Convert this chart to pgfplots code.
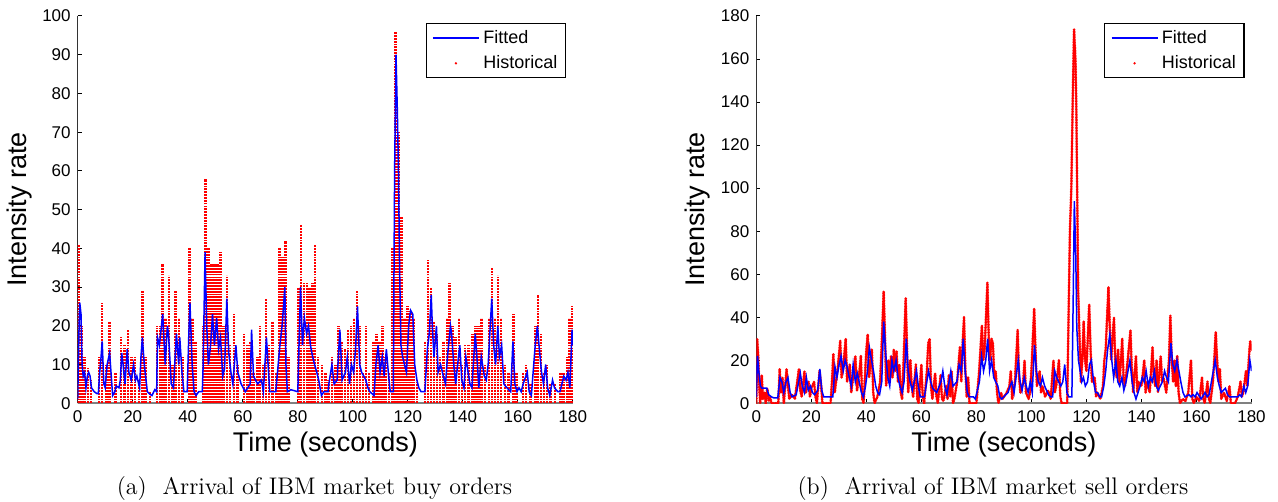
\documentclass[border=0pt]{standalone}
\usepackage{fontspec}
\usepackage{pgfplots}
\pgfplotsset{compat=1.18}
\newfontfamily\arial{Liberation Sans}

\pgfplotsset{
  ibm/.style={
    scale only axis,
    width=247.6pt, height=193.65pt,
    anchor=south west,
    xmin=0, xmax=180,
    ymin=0,
    xtick={0,20,...,180},
    axis x line*=bottom, axis y line*=left,
    x axis line style={draw=gray, line width=0.8pt},
    y axis line style={draw=black!80, line width=0.5pt},
    tick align=inside,
    major tick length=2pt,
    tick style={black, line width=0.5pt},
    /pgf/number format/assume math mode=true,
    tick label style={font=\arial\fontsize{8.5}{10}\selectfont},
    label style={font=\arial\fontsize{13.5}{15}\selectfont},
    xlabel={Time (seconds)},
    ylabel={Intensity rate},
    xlabel style={at={(axis description cs:0.5,0)}, anchor=base, yshift=-24.2pt},
    ylabel style={at={(axis description cs:-0.1042,0.5)}, anchor=base, rotate=0},
    clip=true,
    reverse legend,
    legend cell align=left,
    legend style={at={(1,1)}, anchor=north east, xshift=-3.5pt, yshift=-3.5pt,
      draw=black, line width=0.6pt, font=\arial\fontsize{9}{10}\selectfont,
      inner xsep=3pt, inner ysep=2.2pt, row sep=2.6pt, column sep=0.8pt,
      nodes={inner sep=1pt}},
  },
  fitted/.style={blue, line width=0.75pt, mark=none, sharp plot,
    legend image code/.code={\draw[blue, line width=0.75pt, solid] (0pt,0pt) -- (23pt,0pt);}},
  histlegend/.style={legend image code/.code={%
    \path[draw=none, fill=none] (0pt,0pt) -- (23pt,0pt);%
    \fill[red, draw=none] (11.5pt,0pt) circle[radius=0.65pt];}},
}

\begin{document}
\begin{tikzpicture}
\useasboundingbox (0,0) rectangle (639pt,251pt);

% ---------------- (a) buy orders ----------------
\begin{axis}[ibm, at={(38.85pt,49.35pt)}, ymax=100, ytick={0,10,...,100}]
\addplot[red, ycomb, mark=none, line width=1.3pt, line cap=butt, dash pattern=on 0.9pt off 0.52pt, histlegend]
coordinates {
(0.3,41) (1.4,20) (2.5,12) (3.7,9) (4.8,6) (7.8,12) (8.8,26) (10.5,10) (11.6,21) (13.8,8) (15.8,17) (17,15)
(18.3,19) (19.6,12) (20.8,12) (22.3,6) (23.5,29) (24.6,12) (26.3,3) (28.8,20) (29.9,20) (30.9,36) (32,22) (33.2,33)
(34.4,10) (35.6,29) (36.8,22) (38,12) (40.6,40) (41.7,22) (42.8,16) (45.5,20) (46.5,58) (47.6,40) (48.7,36) (49.8,36)
(50.9,36) (51.9,39) (53,20) (54.3,33) (55.4,15) (56.8,23) (58,10) (60.5,18) (61.7,15) (62.8,16) (64,8) (65.3,12)
(66.3,20) (67.3,10) (68.5,27) (69.6,15) (70.7,21) (72.3,8) (73.3,40) (74.4,38) (75.5,42) (76.6,12) (80.2,30) (81.2,46)
(82.3,31) (83.3,31) (84.3,30) (85.3,31) (86.3,41) (87.4,12) (88.8,10) (90,8) (91.2,6) (92.4,12) (93.6,10) (94.8,20)
(95.9,16) (97.1,14) (98.2,19) (99.3,20) (100.4,22) (101.5,29) (102.6,20) (103.7,8) (104.8,20) (105.9,8) (107.5,16)
(108.6,18) (109.7,16) (110.8,20) (111.9,12) (113.2,8) (114.5,40) (115.5,96) (116.6,70) (117.7,48) (118.8,22) (119.9,25)
(121,24) (122.1,22) (123.3,6) (126.3,16) (127.3,37) (128.4,30) (129.5,21) (130.6,18) (131.7,12) (133,16) (134.2,22)
(135.2,31) (136.3,20) (137.4,17) (138.6,22) (139.7,10) (140.8,15) (142,15) (143.5,18) (144.6,20) (145.7,20) (146.8,22)
(148,10) (149.5,22) (150.6,35) (151.7,22) (152.8,33) (153.9,22) (155.3,10) (156.5,8) (158.3,23) (159.5,8) (161.8,8)
(163,10) (164.5,5) (166.3,20) (167.3,28) (168.4,18) (169.5,8) (170.6,10) (171.8,5) (173.5,5) (175.5,8) (176.6,8)
(177.8,12) (178.8,22) (179.8,25)
};
\addlegendentry{Historical}
\addplot[fitted] coordinates {
(0,1) (0.5,20) (0.75,26) (1.2,23) (1.6,10) (2.0,7) (2.5,8) (3,4) (3.5,7) (4,8) (4.5,7) (5,4) (6,3) (7,2.5) (7.5,2.5)
(8.0,8) (8.5,12) (8.9,16) (9.5,5) (10,4) (10.7,10) (11.6,13) (12.4,5) (12.7,2) (13.5,3) (14,4.5) (15,4) (15.5,6)
(16.0,13) (16.5,10) (17.2,5) (18,14) (18.6,8) (19.5,6) (20.3,10) (21,6) (21.5,7) (22.5,4) (23.0,12) (23.5,17)
(24.2,10) (25,5) (25.3,3) (26,2.5) (27,2) (28,3.5) (28.7,3) (29,17) (29.7,15) (30.9,23) (31.8,10) (32.6,20) (33,18)
(34,5) (34.8,4) (35.9,18) (36.7,10) (37.1,17) (37.9,8) (38.6,3) (39.8,3) (40.4,18) (40.8,26) (41.6,10) (42.3,3)
(43,2) (44,3) (45.3,3) (45.6,10) (46.3,39) (46.9,20) (47.5,10) (48.3,15) (49,23) (49.7,15) (50.5,22) (51.2,14)
(51.9,17) (52.7,7) (53.4,9) (54.2,27) (54.9,13) (55.7,8) (56.4,5) (57.5,15) (58.2,8) (59.4,5) (60.9,3) (62.7,5)
(63.2,19) (63.9,7) (65.4,5) (66.8,6) (67.5,3) (68.6,17) (69.2,10) (69.8,3) (72,3) (73.5,15) (74.3,20) (75.3,30)
(75.7,10) (76.2,3) (77.5,3.5) (80,3) (81,30) (81.7,15) (82.4,22) (83.2,18) (83.9,20) (84.6,15) (85.4,12) (86.1,10)
(86.9,8) (87.6,6) (88.6,2) (89.5,3) (91,3) (91.3,5) (92.4,10) (93.2,5) (94.3,6) (95.3,19) (96.1,6) (97.3,8) (98,12)
(98.8,5) (99.5,10) (100.3,8) (101,14) (101.7,25) (102.5,10) (103.2,8) (104,7) (104.7,6) (105.5,4) (106.2,3)
(107.7,2) (108.4,10) (109.2,15) (109.9,8) (110.7,12) (111.4,7) (112.2,14) (112.9,8) (113.6,3) (114.7,3) (115.2,60)
(115.7,90) (116.2,75) (116.6,60) (117,35) (117.5,15) (118.1,12) (118.8,10) (119.5,8) (120.3,20) (121,24) (121.8,23)
(122.5,10) (123.3,6) (124,4) (124.8,3) (126.2,3) (127.1,14) (127.8,18) (128.5,28) (128.9,20) (129.5,12) (130.4,20)
(131,8) (131.9,10) (132.9,7) (133.7,5) (134.4,12) (135.5,20) (135.9,18) (136.7,10) (137.4,5) (138.1,10) (138.9,15)
(139.6,6) (140.4,4) (141.1,12) (141.9,8) (142.6,5) (143.3,4) (144.5,18) (145.3,10) (145.8,4) (146.7,12) (147.8,7)
(148.5,6) (149.2,10) (150.5,27) (151.2,15) (151.9,10) (152.7,20) (153.3,12) (154.1,15) (154.9,5) (156,4) (157.4,3)
(158.2,16) (158.9,5) (159.7,3) (160.4,4) (161.2,3) (161.9,5) (163.4,8) (164.1,3) (164.9,2) (166.3,15) (167.1,20)
(167.8,14) (168.6,8) (169.3,5) (170.1,10) (170.8,4) (171.6,2) (172.6,6) (173.3,4) (174.5,3) (175.3,3) (176.7,7)
(177.5,6) (178.2,8) (178.9,4) (179.7,19) (180,15)
};
\addlegendentry{Fitted}
\end{axis}

% ---------------- (b) sell orders ----------------
\begin{axis}[ibm, at={(378.15pt,49.35pt)}, ymax=180, ytick={0,20,...,180}]
\addplot[red, sharp plot, mark=none, line width=1.4pt, line cap=round, line join=round, dash pattern=on 0pt off 0.8pt, histlegend]
coordinates {
(0,0) (0.3,30) (0.7,22) (1,10) (1.4,0) (2,13) (2.4,2) (3,5) (3.4,0) (4,7) (4.5,1) (5,3) (5.5,0) (8,0) (8.5,16) (9,5)
(9.5,12) (10,0) (11,16) (11.5,8) (12,2) (13,4) (14,2) (15.5,16) (16,6) (16.5,3) (17.5,15) (18,5) (19,10) (19.5,3)
(20,7) (21,10) (21.5,3) (22,0) (23,15) (23.6,8) (24,0) (27,0) (27.5,10) (28,23) (28.5,5) (29.5,15) (30.5,29) (31,12)
(31.8,20) (32.5,30) (33,10) (34,18) (34.5,5) (35,10) (36,22) (36.6,6) (37.5,15) (38,22) (38.5,2) (39,0) (40,25)
(40.5,32) (41,12) (42,25) (42.5,5) (43,0) (44,3) (45,10) (45.5,25) (46.3,52) (46.8,30) (47.2,8) (48,20) (48.5,10)
(49,22) (49.5,12) (50,25) (50.5,15) (51,24) (51.5,10) (52,18) (52.5,5) (53,2) (53.5,18) (54.3,49) (54.8,25) (55.2,5)
(56,20) (56.5,8) (57,3) (58,18) (58.5,2) (59,0) (60,18) (60.5,3) (61,0) (62,15) (62.5,28) (63,30) (63.5,8) (64,2)
(65,14) (65.5,3) (66,0) (67,13) (67.5,2) (68,1) (69,8) (69.5,2) (70,13) (70.5,3) (71,15) (71.5,0) (72,2) (73,10)
(74,26) (74.5,10) (75,28) (75.5,40) (76,15) (76.5,3) (77,12) (77.5,0) (80,0) (81,15) (82,36) (82.5,20) (83,25)
(84,56) (84.5,30) (85,20) (85.5,30) (86,28) (86.5,12) (87,15) (87.5,5) (88,0) (89,5) (89.5,2) (90,3) (91,5) (92,8)
(92.5,15) (93,2) (94,10) (95,34) (95.5,12) (96,5) (97,10) (97.5,20) (98,5) (99,2) (99.5,5) (100,15) (101,44)
(101.6,20) (102,8) (103,15) (103.5,5) (104,8) (105,3) (106,6) (107,2) (108,20) (108.5,5) (109,8) (110,20) (110.5,3)
(111,0) (113,0) (114,80) (114.5,100) (115,140) (115.5,174) (116,160) (116.3,140) (116.7,90) (117,52) (117.5,30)
(118,10) (118.5,20) (119,38) (119.5,20) (120,15) (121,46) (121.5,25) (122,10) (123,12) (123.5,3) (124,5) (125,2)
(126,8) (126.5,20) (127,25) (127.5,40) (128,54) (128.5,35) (129,20) (129.5,30) (130,40) (130.5,18) (131,12)
(131.5,25) (132,10) (133,30) (133.5,12) (134,8) (135,20) (136,34) (136.5,15) (137,5) (138,22) (138.5,5) (139,10)
(140,8) (141,20) (141.5,5) (142,10) (143,5) (144,26) (144.5,12) (145,8) (145.5,20) (146,5) (147,22) (147.5,10)
(148,12) (149,5) (150,20) (150.5,41) (151,20) (151.5,10) (152,20) (152.5,8) (153,22) (153.5,5) (154,0) (155,2)
(156,1) (157,5) (158,20) (158.5,2) (159,0) (160,3) (161,1) (162,12) (162.5,2) (163,0) (164,10) (164.5,2) (165,0)
(166,10) (167,33) (167.5,20) (168,10) (168.5,16) (169,2) (170,5) (171,1) (172,8) (172.5,0) (174,0) (175,3) (176,10)
(176.5,3) (177,5) (178,15) (178.5,8) (179,20) (179.5,29) (180,25)
};
\addlegendentry{Historical}
\addplot[fitted] coordinates {
(0,3) (0.44,22) (0.9,15) (1.5,8) (2,7) (3,7) (3.8,7) (4.5,4) (5.5,3) (6.4,2.5) (7.8,2.5) (8.6,12) (9.3,10) (10,5)
(10.8,10) (11.5,12) (12.3,5) (13,3) (14.5,4) (16,14) (16.7,8) (17.5,5) (18.2,12) (18.9,6) (19.7,8) (20.4,5) (21.2,4)
(22.3,6) (23.1,16) (23.8,6) (24.5,3) (26,3) (27.8,3) (28.6,17) (29.3,12) (30.1,18) (30.8,22) (31.6,15) (32.3,20)
(33,17) (33.8,12) (34.5,8) (35.2,18) (36,10) (36.7,14) (37.4,10) (38.2,5) (38.9,3) (39.7,8) (40.4,15) (41.1,26)
(41.9,20) (42.6,15) (43.4,8) (44.1,5) (44.8,4) (45.6,10) (46.3,38) (47.1,22) (47.8,12) (48.5,8) (49.3,20) (50,15)
(50.8,20) (51.5,12) (52.2,8) (53,5) (53.7,10) (54.5,30) (55.2,15) (55.9,10) (56.7,6) (57.4,10) (58.2,15) (58.9,8)
(59.6,3) (61.1,3) (62.6,15) (63.4,10) (64.1,7) (64.8,6) (65.6,5) (67.1,10) (67.8,15) (68.5,8) (69.3,4) (70.7,15)
(71.5,8) (72.9,10) (73.7,18) (74.5,15) (75.2,30) (75.9,15) (76.7,5) (77.4,3) (78.9,3) (79.6,2) (81.1,10) (81.9,22)
(82.6,15) (83.4,20) (84.1,30) (84.8,15) (85.5,20) (86.3,12) (87,10) (87.8,8) (88.5,3) (89.2,2) (90.7,4) (91.5,5)
(92.2,8) (92.9,10) (93.7,5) (94.4,12) (95.2,20) (95.9,10) (96.6,6) (97.4,12) (98.1,8) (98.8,5) (99.6,10) (100.3,5)
(101.1,27) (101.8,15) (102.5,10) (103.3,8) (104,12) (104.8,8) (105.5,6) (106.2,4) (107,3) (107.7,3) (108.5,15)
(109.2,12) (109.9,10) (110.7,8) (111.4,10) (112.1,18) (112.9,5) (113.6,3) (114.7,3) (115.2,50) (115.6,94) (116.1,70)
(116.5,35) (117.1,20) (117.7,15) (118.3,10) (118.9,12) (119.6,8) (120.4,10) (121.1,18) (121.8,20) (122.6,10)
(123.3,5) (124,5) (124.8,3) (125.5,3) (126.3,8) (127,15) (127.7,25) (128.5,32) (129.2,20) (129.9,12) (130.7,20)
(131.4,10) (132.1,8) (132.9,12) (133.6,6) (134.4,10) (135.1,15) (135.8,20) (136.6,10) (137.3,5) (138,2) (139.5,8)
(140.3,12) (141,10) (141.7,15) (142.5,8) (143.2,12) (143.9,10) (144.7,15) (145.4,8) (146.1,6) (147.6,10) (148.4,15)
(149.1,12) (149.8,10) (150.7,28) (151.4,18) (152.1,15) (152.9,20) (153.6,15) (154.3,10) (155.1,5) (155.8,3)
(157.3,4) (158,3) (158.7,4) (159.5,3) (160.2,5) (161.7,2) (163.1,5) (163.9,3) (164.6,4) (166.1,15) (166.8,20)
(167.6,12) (168.3,8) (169,5) (170.5,7) (171.3,4) (172,3) (173.5,3) (175,3) (175.7,4) (176.4,3) (177.2,8) (177.9,5)
(178.6,8) (179.4,20) (180,15)
};
\addlegendentry{Fitted}
\end{axis}

\node[anchor=base, font=\fontsize{12}{14}\selectfont] at (157.25pt,3.5pt) {(a)\ \ Arrival of IBM market buy orders};
\node[anchor=base, font=\fontsize{12}{14}\selectfont] at (496.5pt,3.5pt) {(b)\ \ Arrival of IBM market sell orders};
\end{tikzpicture}
\end{document}
